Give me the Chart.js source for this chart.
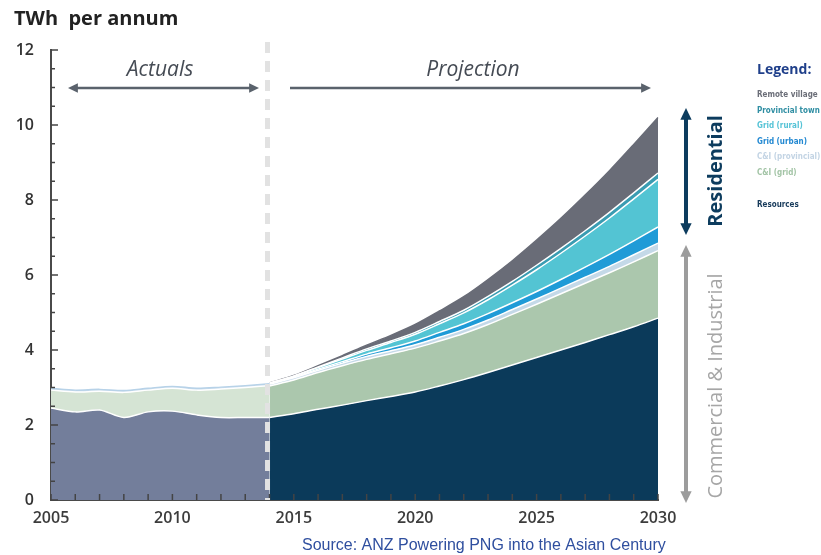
<!DOCTYPE html>
<html>
<head>
<meta charset="utf-8">
<script src="https://cdn.jsdelivr.net/npm/chart.js@4"></script>
<style>
  html, body { margin: 0; padding: 0; background: #fff; }
  #wrap { position: relative; width: 821px; height: 555px; }
</style>
</head>
<body>
<div id="wrap"><canvas id="chart" width="821" height="555"></canvas></div>
<script>
const years = ['2005','2006','2007','2008','2009','2010','2011','2012','2013','2014','2015','2016','2017',
  '2018','2019','2020','2021','2022','2023','2024','2025','2026','2027','2028','2029','2030'];

// actuals 2005-2014 (TWh per annum, layer thickness)
const actualResources = [2.45, 2.35, 2.4, 2.2, 2.35, 2.37, 2.27, 2.2, 2.2, 2.2,
  null, null, null, null, null, null, null, null, null, null, null, null, null, null, null, null];
const actualCIGrid = [0.48, 0.53, 0.5, 0.67, 0.58, 0.61, 0.66, 0.76, 0.8, 0.85,
  null, null, null, null, null, null, null, null, null, null, null, null, null, null, null, null];
const actualCIProvincial = [0.05, 0.05, 0.05, 0.05, 0.05, 0.05, 0.05, 0.05, 0.05, 0.05,
  null, null, null, null, null, null, null, null, null, null, null, null, null, null, null, null];

// projection 2014-2030
const resources = [null, null, null, null, null, null, null, null, null,
  2.2, 2.3, 2.42, 2.53, 2.65, 2.76, 2.88, 3.04, 3.21, 3.4, 3.6, 3.8, 4.0, 4.2, 4.41, 4.62, 4.85];
const ciGrid = [null, null, null, null, null, null, null, null, null,
  0.84, 0.9, 0.98, 1.05, 1.1, 1.14, 1.17, 1.2, 1.23, 1.28, 1.35, 1.42, 1.5, 1.58, 1.65, 1.73, 1.8];
const ciProvincial = [null, null, null, null, null, null, null, null, null,
  0.05, 0.06, 0.06, 0.07, 0.08, 0.08, 0.09, 0.1, 0.11, 0.12, 0.13, 0.14, 0.15, 0.16, 0.17, 0.19, 0.2];
const gridUrban = [null, null, null, null, null, null, null, null, null,
  0.01, 0.02, 0.03, 0.04, 0.06, 0.08, 0.1, 0.13, 0.15, 0.17, 0.18, 0.2, 0.23, 0.27, 0.32, 0.37, 0.43];
const gridRural = [null, null, null, null, null, null, null, null, null,
  0.01, 0.02, 0.04, 0.07, 0.1, 0.14, 0.18, 0.23, 0.29, 0.37, 0.47, 0.58, 0.7, 0.83, 0.97, 1.12, 1.27];
const provincialTown = [null, null, null, null, null, null, null, null, null,
  0.01, 0.01, 0.02, 0.03, 0.04, 0.04, 0.05, 0.06, 0.07, 0.09, 0.1, 0.12, 0.13, 0.14, 0.15, 0.16, 0.17];
const remoteVillage = [null, null, null, null, null, null, null, null, null,
  0.0, 0.01, 0.03, 0.06, 0.1, 0.15, 0.21, 0.28, 0.36, 0.45, 0.55, 0.67, 0.8, 0.95, 1.11, 1.29, 1.48];

const yTicks = [0, 2, 4, 6, 8, 10, 12];

const legendItems = [
  ['Remote village', '#6b6e78', 95],
  ['Provincial town', '#2f8ea3', 111],
  ['Grid (rural)', '#56c3d6', 126],
  ['Grid (urban)', '#2389d2', 142],
  ['C&I (provincial)', '#c3d4e4', 157],
  ['C&I (grid)', '#a3c4a6', 173],
  ['Resources', '#173a5a', 205]
];

function layer(label, data, color, stack, fill, border) {
  return {
    label: label,
    data: data,
    stack: stack,
    fill: fill,
    backgroundColor: color,
    borderColor: border || '#ffffff',
    borderWidth: 1.5,
    pointRadius: 0,
    tension: 0.3
  };
}

function arrow(ctx, x1, y1, x2, y2, color, width, head, both) {
  const ang = Math.atan2(y2 - y1, x2 - x1);
  ctx.save();
  ctx.strokeStyle = color;
  ctx.fillStyle = color;
  ctx.lineWidth = width;
  ctx.beginPath();
  ctx.moveTo(x1 + Math.cos(ang) * (both ? head * 0.8 : 0), y1 + Math.sin(ang) * (both ? head * 0.8 : 0));
  ctx.lineTo(x2 - Math.cos(ang) * head * 0.8, y2 - Math.sin(ang) * head * 0.8);
  ctx.stroke();
  const tip = (x, y, a) => {
    ctx.beginPath();
    ctx.moveTo(x, y);
    ctx.lineTo(x - head * Math.cos(a - 0.45), y - head * Math.sin(a - 0.45));
    ctx.lineTo(x - head * Math.cos(a + 0.45), y - head * Math.sin(a + 0.45));
    ctx.closePath();
    ctx.fill();
  };
  tip(x2, y2, ang);
  if (both) tip(x1, y1, ang + Math.PI);
  ctx.restore();
}

const decorations = {
  id: 'decorations',
  afterDatasetsDraw(chart) {
    const ctx = chart.ctx;
    const xs = chart.scales.x;
    const ys = chart.scales.y;
    const area = chart.chartArea;

    // tick marks inside the axes
    ctx.save();
    ctx.strokeStyle = '#444';
    ctx.lineWidth = 1.5;
    years.forEach((y, i) => {
      const px = xs.getPixelForValue(i);
      ctx.beginPath();
      ctx.moveTo(px, area.bottom);
      ctx.lineTo(px, area.bottom - 6);
      ctx.stroke();
    });
    for (let v = 0; v <= 12; v += 0.5) {
      const py = ys.getPixelForValue(v);
      ctx.beginPath();
      ctx.moveTo(area.left, py);
      ctx.lineTo(area.left + (v % 2 === 0 ? 7 : 4), py);
      ctx.stroke();
    }
    ctx.restore();

    // dashed divider at 2014
    const xd = xs.getPixelForValue(years.indexOf('2014')) - 2;
    ctx.save();
    ctx.strokeStyle = '#e2e2e2';
    ctx.lineWidth = 5;
    ctx.setLineDash([11, 8]);
    ctx.beginPath();
    ctx.moveTo(xd, 42);
    ctx.lineTo(xd, area.bottom);
    ctx.stroke();
    ctx.restore();
  },
  afterDraw(chart) {
    const ctx = chart.ctx;
    ctx.save();

    // title
    ctx.fillStyle = '#222';
    ctx.font = 'bold 20px "Open Sans"';
    ctx.textBaseline = 'middle';
    ctx.fillText('TWh  per annum', 14, 19);

    // actuals / projection
    ctx.fillStyle = '#454b54';
    ctx.font = 'italic 21px "Open Sans"';
    ctx.textAlign = 'center';
    ctx.fillText('Actuals', 160, 70);
    ctx.fillText('Projection', 473, 70);
    arrow(ctx, 68, 88, 259, 88, '#5a626c', 2.5, 11, true);
    arrow(ctx, 290, 88, 651, 88, '#5a626c', 2.5, 11, false);

    // right-hand brackets
    arrow(ctx, 686, 108, 686, 235, '#0d3c5e', 4, 13, true);
    arrow(ctx, 686, 245, 686, 503, '#9c9c9c', 4, 13, true);
    ctx.save();
    ctx.translate(716, 171);
    ctx.rotate(-Math.PI / 2);
    ctx.fillStyle = '#0d3c5e';
    ctx.font = 'bold 20px "Open Sans"';
    ctx.fillText('Residential', 0, 0);
    ctx.restore();
    ctx.save();
    ctx.translate(716, 386);
    ctx.rotate(-Math.PI / 2);
    ctx.fillStyle = '#a6a6a6';
    ctx.font = '20px "Open Sans"';
    ctx.fillText('Commercial & Industrial', 0, 0);
    ctx.restore();

    // legend
    ctx.textAlign = 'left';
    ctx.fillStyle = '#1f3f8a';
    ctx.font = 'bold 14px "Open Sans"';
    ctx.fillText('Legend:', 757, 70);
    ctx.font = 'bold 8px "DejaVu Sans Condensed"';
    legendItems.forEach(([text, color, y]) => {
      ctx.fillStyle = color;
      ctx.fillText(text, 757, y);
    });

    // source
    ctx.fillStyle = '#2f4f9f';
    ctx.font = '16px "Liberation Sans"';
    ctx.textAlign = 'left';
    ctx.fillText('Source: ANZ Powering PNG into the Asian Century', 302, 546);
    ctx.restore();
  }
};

new Chart(document.getElementById('chart').getContext('2d'), {
  type: 'line',
  data: {
    labels: years,
    datasets: [
      layer('Resources (actual)', actualResources, '#737e9b', 'actual', 'origin'),
      layer('C&I grid (actual)', actualCIGrid, '#d5e4d4', 'actual', '-1'),
      layer('C&I provincial (actual)', actualCIProvincial, '#c9dcec', 'actual', '-1', '#b7d2e8'),
      layer('Resources', resources, '#0b3a5a', 'projection', 'origin'),
      layer('C&I (grid)', ciGrid, '#abc7ad', 'projection', '-1'),
      layer('C&I (provincial)', ciProvincial, '#c4d9e8', 'projection', '-1'),
      layer('Grid (urban)', gridUrban, '#1f9bd7', 'projection', '-1'),
      layer('Grid (rural)', gridRural, '#53c4d3', 'projection', '-1'),
      layer('Provincial town', provincialTown, '#3a9cb2', 'projection', '-1'),
      layer('Remote village', remoteVillage, '#696c77', 'projection', '-1', '#696c77')
    ]
  },
  options: {
    responsive: false,
    animation: false,
    layout: { padding: { left: 0, top: 50, right: 163, bottom: 25 } },
    plugins: {
      legend: { display: false },
      tooltip: { enabled: false }
    },
    scales: {
      x: {
        offset: false,
        grid: { display: false, drawTicks: false },
        border: { display: true, color: '#4a4a4a', width: 2 },
        ticks: {
          autoSkip: false,
          maxRotation: 0,
          padding: 9,
          color: '#3c3c3c',
          font: { family: 'Open Sans', size: 16, weight: '600' },
          callback: (v, i) => (Number(years[i]) % 5 === 0 ? years[i] : '')
        },
        afterFit: s => { s.height = 30; }
      },
      y: {
        stacked: true,
        min: 0,
        max: 12,
        grid: { display: false, drawTicks: false },
        border: { display: true, color: '#4a4a4a', width: 2 },
        ticks: {
          stepSize: 2,
          padding: 17,
          color: '#333',
          font: { family: 'Open Sans', size: 16, weight: '600' },
          callback: v => (yTicks.includes(v) ? v : '')
        },
        afterFit: s => { s.width = 51; }
      }
    }
  },
  plugins: [decorations]
});
</script>
</body>
</html>
